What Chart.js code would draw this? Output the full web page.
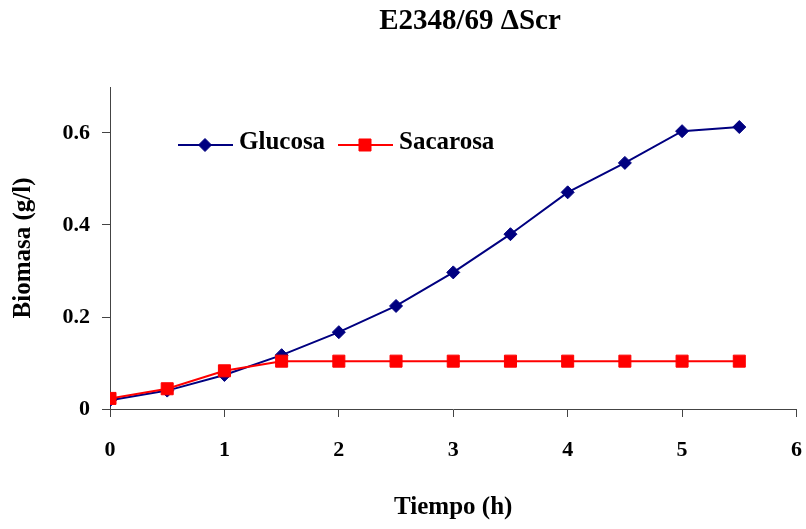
<!DOCTYPE html>
<html>
<head>
<meta charset="utf-8">
<script src="https://cdn.jsdelivr.net/npm/chart.js@4/dist/chart.umd.min.js"></script>
<style>
  html, body { margin: 0; padding: 0; background: #fff; }
  #wrap { width: 806px; height: 529px; }
</style>
</head>
<body>
<div id="wrap"><canvas id="myChart" width="806" height="529"></canvas></div>
<script>
const chartTitle = 'E2348/69 \u0394Scr'
const xTitle = 'Tiempo (h)'
const yTitle = 'Biomasa (g/l)'

const tiempo = [0, 0.5, 1, 1.5, 2, 2.5, 3, 3.5, 4, 4.5, 5, 5.5]
const glucosa = [0.019, 0.040, 0.074, 0.117, 0.167, 0.224, 0.297, 0.380, 0.471, 0.535, 0.604, 0.613]
const sacarosa = [0.023, 0.044, 0.083, 0.104, 0.104, 0.104, 0.104, 0.104, 0.104, 0.104, 0.104, 0.104]

const xTicks = [0, 1, 2, 3, 4, 5, 6]
const yTicks = [0, 0.2, 0.4, 0.6]

const serif = "'Liberation Serif', 'Times New Roman', serif"
const navy = '#000080'
const red = '#ff0000'

const toPoints = (ys) => tiempo.map((t, i) => ({ x: t, y: ys[i] }))

// title + legend drawn by hand so they sit where the original has them
const overlay = {
  id: 'overlay',
  afterDraw(chart) {
    const ctx = chart.ctx
    ctx.save()
    ctx.fillStyle = '#000'
    ctx.font = 'bold 29px ' + serif
    ctx.textAlign = 'center'
    ctx.textBaseline = 'middle'
    ctx.fillText(chartTitle, 470, 22)

    const items = [
      { ds: chart.data.datasets[1], x0: 178 },
      { ds: chart.data.datasets[0], x0: 338 }
    ]
    const ly = 145
    items.forEach(it => {
      const ds = it.ds
      ctx.strokeStyle = ds.borderColor
      ctx.lineWidth = 2
      ctx.beginPath()
      ctx.moveTo(it.x0, ly)
      ctx.lineTo(it.x0 + 55, ly)
      ctx.stroke()
      ctx.fillStyle = ds.backgroundColor
      ctx.strokeStyle = ds.borderColor
      ctx.lineWidth = 1
      Chart.helpers.drawPoint(ctx, {
        pointStyle: ds.pointStyle,
        radius: ds.pointRadius,
        rotation: 0,
        borderWidth: 1
      }, it.x0 + 27, ly)
      ctx.fillStyle = '#000'
      ctx.font = 'bold 25px ' + serif
      ctx.textAlign = 'left'
      ctx.fillText(ds.label, it.x0 + 61, ly - 2)
    })
    ctx.restore()
  }
}

const config = {
  type: 'line',
  data: {
    datasets: [
      {
        label: 'Sacarosa',
        data: toPoints(sacarosa),
        borderColor: red,
        backgroundColor: red,
        borderWidth: 2,
        pointStyle: 'rect',
        pointRadius: 8.5,
        pointBorderWidth: 1,
        order: 0
      },
      {
        label: 'Glucosa',
        data: toPoints(glucosa),
        borderColor: navy,
        backgroundColor: navy,
        borderWidth: 2,
        pointStyle: 'rectRot',
        pointRadius: 6.5,
        pointBorderWidth: 1,
        order: 1
      }
    ]
  },
  options: {
    responsive: false,
    animation: false,
    layout: { padding: { top: 87, right: 9, left: 0, bottom: 0 } },
    plugins: {
      legend: { display: false },
      title: { display: false },
      tooltip: { enabled: false }
    },
    scales: {
      x: {
        type: 'linear',
        min: 0,
        max: 6,
        afterBuildTicks: (scale) => { scale.ticks = xTicks.map(v => ({ value: v })) },
        afterFit: (scale) => {
          scale.height = 120
          scale.paddingLeft = 0
          scale.paddingRight = 0
        },
        grid: { drawOnChartArea: false, drawTicks: true, tickLength: 8, color: '#444' },
        border: { display: true, color: '#444', width: 1 },
        ticks: {
          color: '#000',
          padding: 20,
          maxRotation: 0,
          font: { family: serif, size: 22, weight: 'bold' },
          callback: (v) => String(v)
        },
        title: {
          display: true,
          text: xTitle,
          color: '#000',
          padding: { top: 6, bottom: 6 },
          font: { family: serif, size: 25, weight: 'bold' }
        }
      },
      y: {
        min: 0,
        max: 0.7,
        afterBuildTicks: (scale) => { scale.ticks = yTicks.map(v => ({ value: v })) },
        afterFit: (scale) => { scale.width = 110 },
        grid: { drawOnChartArea: false, drawTicks: true, tickLength: 8, color: '#444' },
        border: { display: true, color: '#444', width: 1 },
        ticks: {
          color: '#000',
          padding: 12,
          font: { family: serif, size: 22, weight: 'bold' },
          callback: (v) => String(v)
        },
        title: {
          display: true,
          text: yTitle,
          color: '#000',
          padding: { top: 9, bottom: 9 },
          font: { family: serif, size: 25, weight: 'bold' }
        }
      }
    }
  },
  plugins: [overlay]
}

const myChart = new Chart(document.getElementById('myChart'), config)
</script>
</body>
</html>
